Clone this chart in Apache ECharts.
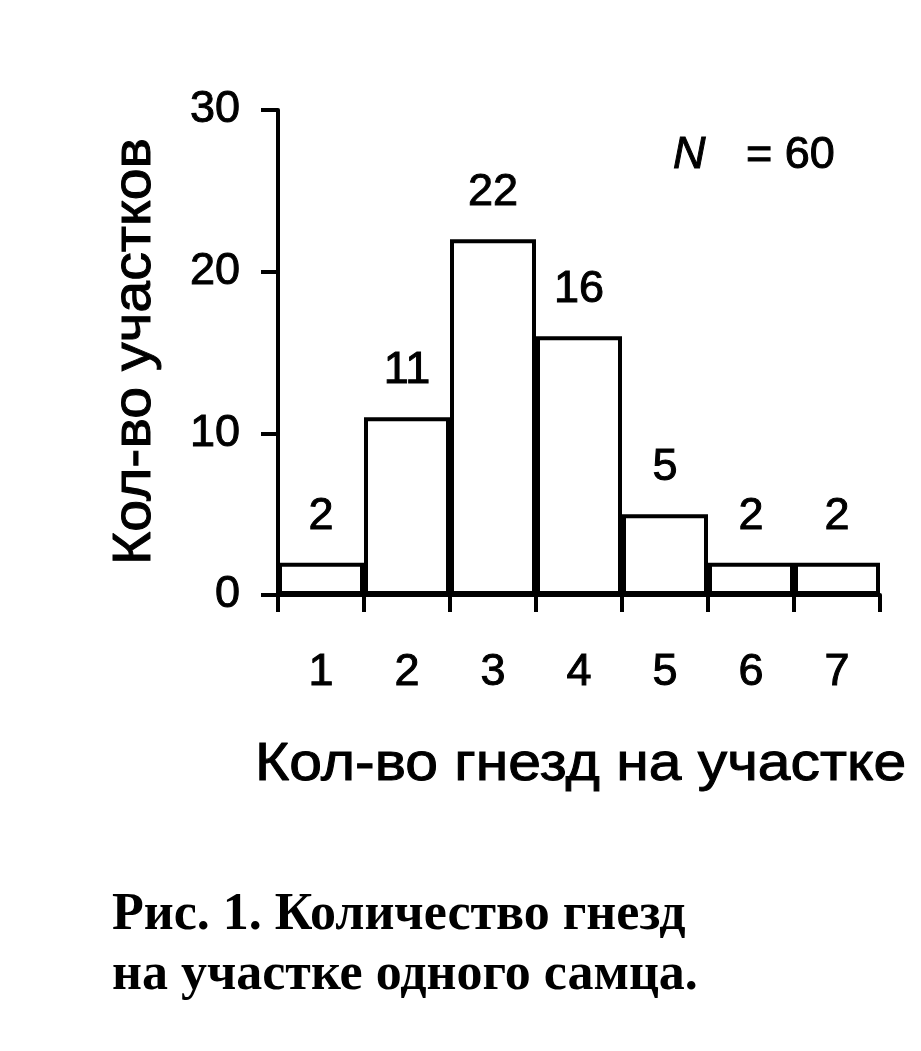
<!DOCTYPE html>
<html>
<head>
<meta charset="utf-8">
<script src="https://cdn.jsdelivr.net/npm/echarts@6/dist/echarts.min.js"></script>
<style>
  html, body { margin: 0; padding: 0; background: #fff; }
  #chart { width: 921px; height: 1051px; }
</style>
</head>
<body>
<div id="chart"></div>
<script>
// number of nests per male territory
var nestCounts = ['1', '2', '3', '4', '5', '6', '7'];
var territories = [2, 11, 22, 16, 5, 2, 2];
var yTicks = [0, 10, 20, 30];
var sampleSize = 60;

var font = 'Liberation Sans, Arial, sans-serif';

var myChart = echarts.init(document.getElementById('chart'));
var option = {
    backgroundColor: '#fff',
    animation: false,
    grid: {
        left: 278,
        right: 41,
        top: 110,
        bottom: 456
    },
    xAxis: {
        type: 'category',
        data: nestCounts,
        boundaryGap: true,
        axisLine: { lineStyle: { color: '#000', width: 4 } },
        axisTick: { show: true, length: 17, lineStyle: { color: '#000', width: 4 } },
        axisLabel: {
            color: '#000', fontSize: 45, fontFamily: font, margin: 55,
            textBorderColor: '#000', textBorderWidth: 1
        },
        splitLine: { show: false }
    },
    yAxis: {
        type: 'value',
        min: yTicks[0],
        max: yTicks[yTicks.length - 1],
        interval: 10,
        axisLine: { show: true, lineStyle: { color: '#000', width: 4 } },
        axisTick: { show: true, length: 17, lineStyle: { color: '#000', width: 4 } },
        axisLabel: {
            color: '#000', fontSize: 45, fontFamily: font, margin: 38,
            textBorderColor: '#000', textBorderWidth: 1
        },
        splitLine: { show: false }
    },
    series: [{
        type: 'bar',
        data: territories,
        barCategoryGap: '0%',
        itemStyle: { color: '#fff', borderColor: '#000', borderWidth: 4 },
        label: {
            show: true,
            position: 'top',
            distance: 24,
            color: '#000',
            fontSize: 45,
            fontFamily: font,
            textBorderColor: '#000',
            textBorderWidth: 1
        }
    }],
    graphic: [
        {
            type: 'text',
            x: 255,
            y: 738,
            scaleX: 1.09,
            style: {
                text: 'Кол-во гнезд на участке', font: '54px ' + font, fill: '#000',
                stroke: '#000', lineWidth: 1
            }
        },
        {
            type: 'text',
            x: 108,
            y: 565,
            rotation: Math.PI / 2,
            scaleX: 1.06,
            style: {
                text: 'Кол-во участков', font: '54px ' + font, fill: '#000',
                stroke: '#000', lineWidth: 1
            }
        },
        {
            type: 'text',
            x: 673,
            y: 133,
            style: { text: 'N', font: 'italic 45px ' + font, fill: '#000', stroke: '#000', lineWidth: 1 }
        },
        {
            type: 'text',
            x: 746,
            y: 133,
            style: { text: '= ' + sampleSize, font: '45px ' + font, fill: '#000', stroke: '#000', lineWidth: 1 }
        },
        {
            type: 'text',
            x: 112,
            y: 886,
            style: {
                text: 'Рис. 1. Количество гнезд\nна участке одного самца.',
                font: 'bold 52px Liberation Serif, Times New Roman, serif',
                lineHeight: 60,
                fill: '#000'
            }
        }
    ]
};
myChart.setOption(option);
</script>
</body>
</html>
